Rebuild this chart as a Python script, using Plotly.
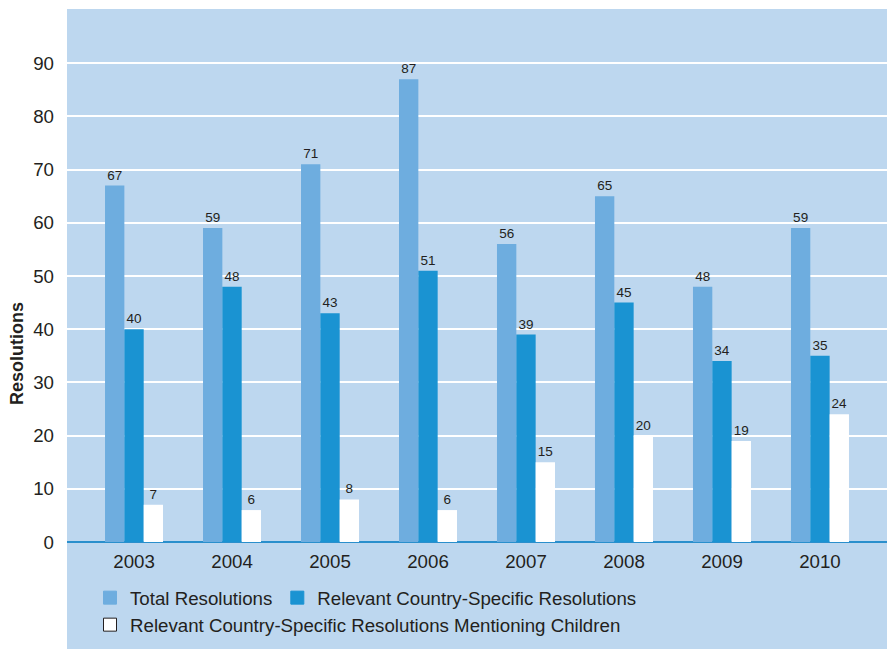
import plotly.graph_objects as go

years = ["2003", "2004", "2005", "2006", "2007", "2008", "2009", "2010"]
total_resolutions = [67, 59, 71, 87, 56, 65, 48, 59]
country_specific = [40, 48, 43, 51, 39, 45, 34, 35]
mentioning_children = [7, 6, 8, 6, 15, 20, 19, 24]

series_names = [
    "Total Resolutions",
    "Relevant Country-Specific Resolutions",
    "Relevant Country-Specific Resolutions Mentioning Children",
]
y_ticks = list(range(0, 100, 10))

PANEL = "#BDD7EF"
LIGHT = "#6EADDF"
MEDIUM = "#1A93D2"
WHITE = "#FFFFFF"
INK = "#231F20"
FONT = "Liberation Sans, Arial, sans-serif"
FS = 18.7

fig = go.Figure()

for name, vals, col in zip(series_names,
                           [total_resolutions, country_specific, mentioning_children],
                           [LIGHT, MEDIUM, WHITE]):
    fig.add_trace(go.Bar(
        x=years, y=vals, name=name,
        marker=dict(color=col, line=dict(width=0)),
        text=[str(v) for v in vals], textposition="outside",
        textfont=dict(size=13.5, color=INK, family=FONT),
        cliponaxis=False, showlegend=False,
    ))

# legend entries: first two share a row, the third sits on its own row
for i, (name, col, edge) in enumerate(zip(series_names, [LIGHT, MEDIUM, WHITE],
                                          [LIGHT, MEDIUM, INK])):
    fig.add_trace(go.Scatter(
        x=[None], y=[None], mode="markers", name=name,
        marker=dict(symbol="square", size=13, color=col, line=dict(color=edge, width=1)),
        showlegend=True, legend="legend" if i < 2 else "legend2",
    ))

PLOT_H = 649 - 10 - 107
legend_style = dict(
    orientation="h", xanchor="left", yanchor="middle",
    font=dict(size=FS, color=INK, family=FONT),
    bgcolor="rgba(0,0,0,0)", itemwidth=30, traceorder="normal",
)

fig.update_layout(
    width=887, height=649,
    margin=dict(l=67, r=0, t=10, b=107, autoexpand=False),
    paper_bgcolor="white",
    plot_bgcolor="rgba(0,0,0,0)",
    font=dict(family=FONT, color=INK, size=FS),
    barmode="group", bargap=0.408, bargroupgap=0,
    legend=dict(x=(90 - 67) / 820, y=-(598 - 542) / PLOT_H, **legend_style),
    legend2=dict(x=(90 - 67) / 820, y=-(625 - 542) / PLOT_H, **legend_style),
    shapes=[dict(
        type="rect", xref="paper", yref="paper",
        x0=0, x1=1, y0=-107 / PLOT_H, y1=1 + 1 / PLOT_H,
        fillcolor=PANEL, line=dict(width=0), layer="below",
    )],
    annotations=[dict(
        text="<b>Resolutions</b>", xref="paper", yref="paper",
        x=-50 / 820, y=(542 - 354) / PLOT_H, xanchor="center", yanchor="middle",
        textangle=-90, showarrow=False, font=dict(size=18, color=INK, family=FONT),
    )],
)

fig.update_xaxes(
    type="category", range=[-0.684, 7.684],
    showgrid=False, showline=False, ticks="",
    tickfont=dict(size=FS, color=INK), ticklabelstandoff=6,
)
fig.update_yaxes(
    range=[0, 100], tickvals=y_ticks,
    showgrid=True, gridcolor="white", gridwidth=1.5,
    zeroline=True, zerolinecolor="#2A8FCC", zerolinewidth=2,
    showline=False, ticks="", ticklabelstandoff=12,
    tickfont=dict(size=FS, color=INK),
)

fig.write_html("out.html")
